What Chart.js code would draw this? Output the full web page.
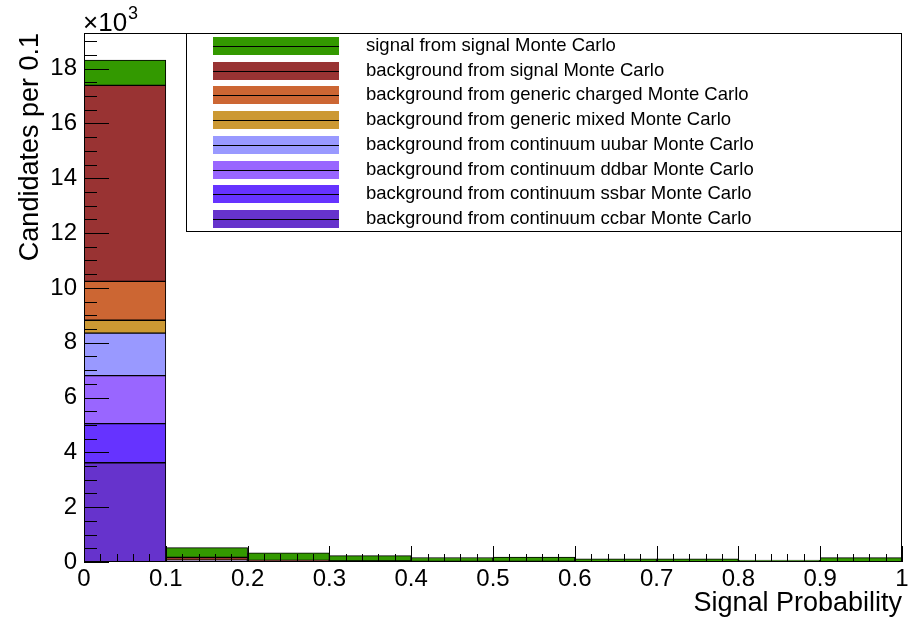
<!DOCTYPE html>
<html>
<head>
<meta charset="utf-8">
<script src="https://cdn.jsdelivr.net/npm/chart.js@4.4.1/dist/chart.umd.min.js"></script>
<style>
  body { margin: 0; background: #fff; }
  #chart { display: block; }
</style>
</head>
<body>
<canvas id="chart" width="909" height="624"></canvas>
<script>
// bin centres of the signal probability histogram (10 bins of 0.1)
const binCenters = [0.05, 0.15, 0.25, 0.35, 0.45, 0.55, 0.65, 0.75, 0.85, 0.95];

// candidates per bin, in units of 10^3 (stack order bottom -> top)
const ccbar   = [3.62, 0.020, 0.006, 0.004, 0.003, 0.002, 0.002, 0.002, 0.001, 0.001];
const ssbar   = [1.43, 0.012, 0.004, 0.003, 0.002, 0.002, 0.001, 0.001, 0.001, 0.001];
const ddbar   = [1.75, 0.012, 0.004, 0.003, 0.002, 0.002, 0.001, 0.001, 0.001, 0.001];
const uubar   = [1.55, 0.012, 0.004, 0.003, 0.002, 0.002, 0.001, 0.001, 0.001, 0.001];
const mixed   = [0.47, 0.010, 0.004, 0.003, 0.002, 0.002, 0.001, 0.001, 0.001, 0.001];
const charged = [1.42, 0.020, 0.006, 0.004, 0.003, 0.002, 0.002, 0.002, 0.001, 0.001];
const bgSig   = [7.15, 0.080, 0.030, 0.015, 0.010, 0.010, 0.006, 0.006, 0.004, 0.005];
const sigSig  = [0.92, 0.360, 0.280, 0.200, 0.140, 0.160, 0.100, 0.100, 0.060, 0.150];

const seriesLabels = [
  "background from continuum ccbar Monte Carlo",
  "background from continuum ssbar Monte Carlo",
  "background from continuum ddbar Monte Carlo",
  "background from continuum uubar Monte Carlo",
  "background from generic mixed Monte Carlo",
  "background from generic charged Monte Carlo",
  "background from signal Monte Carlo",
  "signal from signal Monte Carlo"
];
const seriesColors = ["#6633cc", "#6633ff", "#9966ff", "#9999ff", "#cc9933", "#cc6633", "#993333", "#339900"];
const seriesValues = [ccbar, ssbar, ddbar, uubar, mixed, charged, bgSig, sigSig];

const FONT = '"Liberation Sans", Arial, sans-serif';

// ROOT style ticks (inside the frame), frame, multiplier and legend box
const rootDecor = {
  id: "rootDecor",
  afterDatasetsDraw(chart) {
    const { ctx, chartArea: a, scales } = chart;
    ctx.save();
    ctx.strokeStyle = "#000";
    ctx.lineWidth = 1;
    ctx.beginPath();
    for (let i = 0; i * 0.5 <= scales.y.max; i++) {
      const py = Math.round(scales.y.getPixelForValue(i * 0.5)) + 0.5;
      const len = i % 4 === 0 ? 25 : 13;
      ctx.moveTo(a.left, py);
      ctx.lineTo(a.left + len, py);
    }
    for (let i = 0; i <= 50; i++) {
      const px = Math.round(scales.x.getPixelForValue(i * 0.02)) + 0.5;
      const len = i % 5 === 0 ? 16 : 8;
      ctx.moveTo(px, a.bottom);
      ctx.lineTo(px, a.bottom - len);
    }
    ctx.stroke();
    ctx.strokeRect(Math.round(a.left) + 0.5, Math.round(a.top) + 0.5,
      Math.round(a.right - a.left) - 1, Math.round(a.bottom - a.top) - 1);

    // x10^3
    ctx.fillStyle = "#000";
    ctx.textBaseline = "alphabetic";
    ctx.textAlign = "left";
    ctx.font = "26px " + FONT;
    ctx.fillText("\u00d710", 83, 31);
    const w = ctx.measureText("\u00d710").width;
    ctx.font = "18px " + FONT;
    ctx.fillText("3", 83 + w + 1, 19);
    ctx.restore();
  },
  afterDraw(chart) {
    const ctx = chart.ctx;
    ctx.save();
    ctx.fillStyle = "#fff";
    ctx.fillRect(187, 34, 714, 197);
    ctx.strokeStyle = "#000";
    ctx.lineWidth = 1;
    ctx.strokeRect(186.5, 33.5, 715, 198);
    const items = chart.data.datasets.slice().reverse();
    items.forEach((ds, i) => {
      const cy = Math.round(46 + i * 24.7);
      ctx.fillStyle = ds.backgroundColor;
      ctx.fillRect(213, cy - 9, 126, 18);
      ctx.beginPath();
      ctx.moveTo(213, cy + 0.5);
      ctx.lineTo(339, cy + 0.5);
      ctx.stroke();
      ctx.fillStyle = "#000";
      ctx.font = "18.5px " + FONT;
      ctx.textBaseline = "middle";
      ctx.fillText(ds.label, 366, cy);
    });
    ctx.restore();
  }
};

new Chart(document.getElementById("chart"), {
  type: "bar",
  data: {
    datasets: seriesValues.map((vals, k) => ({
      label: seriesLabels[k],
      data: binCenters.map((x, i) => ({ x: x, y: vals[i] })),
      backgroundColor: seriesColors[k],
      borderColor: "#000",
      borderWidth: 1,
      borderSkipped: false,
      barPercentage: 1,
      categoryPercentage: 1
    }))
  },
  options: {
    responsive: false,
    animation: false,
    events: [],
    layout: { padding: { left: 0, right: 7, top: 33, bottom: 0 } },
    plugins: { legend: { display: false }, tooltip: { enabled: false } },
    scales: {
      x: {
        type: "linear",
        stacked: true,
        offset: false,
        min: 0,
        max: 1,
        grid: { display: false, drawTicks: false },
        border: { display: false },
        ticks: {
          stepSize: 0.1,
          color: "#000",
          padding: 3,
          maxRotation: 0,
          font: { family: FONT, size: 24 },
          callback: v => String(+v.toFixed(1))
        },
        title: {
          display: true,
          text: "Signal Probability",
          align: "end",
          color: "#000",
          font: { family: FONT, size: 27 },
          padding: { top: 0, bottom: 4 }
        },
        afterFit(s) {
          s.height = 62;
          s.paddingLeft = 0;
          s.paddingRight = 0;
        }
      },
      y: {
        stacked: true,
        min: 0,
        max: 19.3,
        grid: { display: false, drawTicks: false },
        border: { display: false },
        ticks: {
          stepSize: 2,
          includeBounds: false,
          color: "#000",
          padding: 7,
          font: { family: FONT, size: 24 }
        },
        title: {
          display: true,
          text: "Candidates per 0.1",
          align: "end",
          color: "#000",
          font: { family: FONT, size: 27 },
          padding: { top: 14, bottom: 0 }
        },
        afterFit(s) {
          s.width = 84;
          s.paddingTop = 0;
          s.paddingBottom = 0;
        }
      }
    }
  },
  plugins: [rootDecor]
});
</script>
</body>
</html>
